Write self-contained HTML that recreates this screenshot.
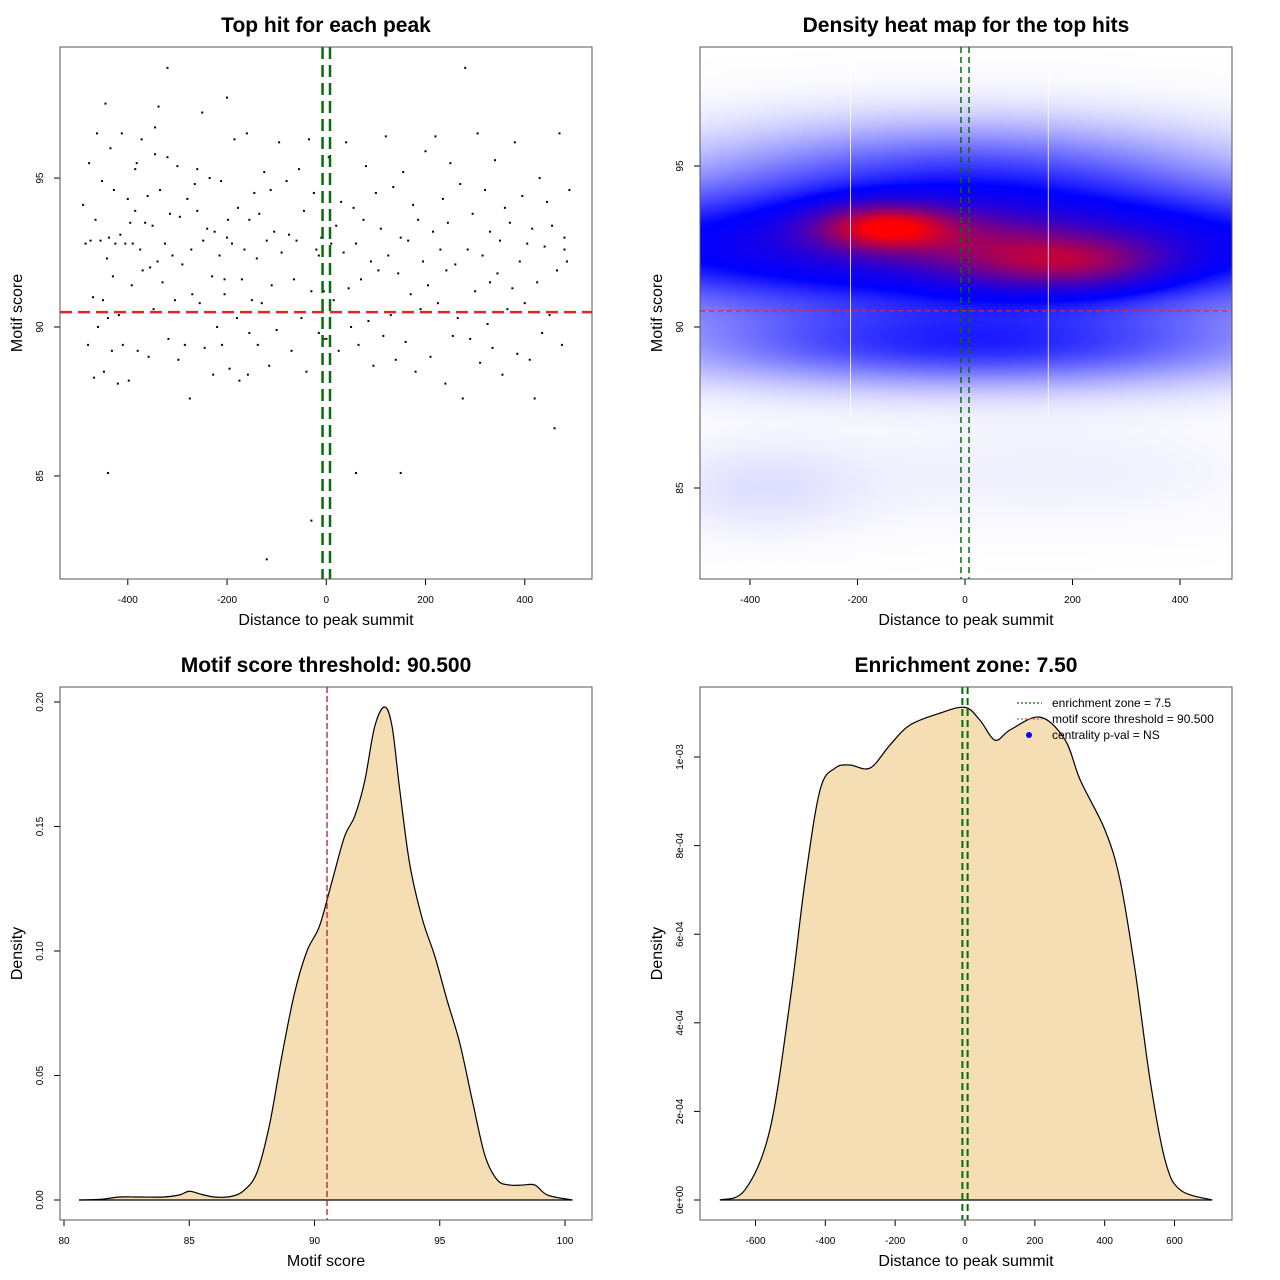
<!DOCTYPE html>
<html><head><meta charset="utf-8"><style>
html,body{margin:0;padding:0;background:#fff;width:1280px;height:1280px;overflow:hidden}
#wrap{position:relative;width:1280px;height:1280px}
svg{position:absolute;left:0;top:0}
canvas{position:absolute;left:700px;top:47px}
text{font-family:"Liberation Sans",Arial,sans-serif}
</style></head><body>
<div id="wrap">
<canvas id="heat" width="532" height="532"></canvas>
<svg id="svg" width="1280" height="1280"></svg>
</div>
<script>
// ---------- data ----------
const scatterDist=[-490,-485,-480,-478,-475,-470,-468,-465,-462,-460,-455,-452,-450,-448,-445,-442,-440,-438,-435,-432,-430,-428,-425,-420,-418,-415,-412,-410,-405,-400,-398,-395,-392,-390,-385,-382,-380,-375,-372,-370,-365,-360,-358,-355,-350,-348,-345,-340,-338,-335,-330,-325,-320,-318,-315,-310,-305,-300,-298,-295,-290,-285,-280,-275,-272,-270,-265,-260,-255,-250,-248,-245,-240,-235,-230,-228,-225,-220,-215,-212,-210,-205,-200,-198,-195,-190,-185,-180,-178,-175,-170,-165,-160,-158,-155,-150,-145,-140,-138,-135,-130,-125,-120,-115,-112,-110,-105,-100,-95,-90,-85,-80,-75,-70,-65,-60,-55,-50,-45,-40,-35,-30,-25,-20,-15,-10,-5,0,5,10,15,20,25,30,35,40,45,50,55,60,65,70,75,80,85,90,95,100,105,110,115,120,125,130,135,140,145,150,155,160,165,170,175,180,185,190,195,200,205,210,215,220,225,230,235,240,242,245,250,255,260,265,270,275,280,285,290,295,300,305,310,315,320,325,330,335,340,345,350,355,360,365,370,375,380,385,390,395,400,405,410,415,420,425,430,435,440,445,450,455,460,465,470,475,480,485,490,-440,-385,-205,-155,-200,-345,-15,-5,480,-30,60,150,-120,330,-260,-320];
const scatterScore=[94.1,92.8,89.4,95.5,92.9,91.0,88.3,93.6,96.5,90.0,92.9,94.9,90.9,88.5,97.5,92.3,85.1,93.0,96.0,89.2,91.7,94.6,92.8,88.1,90.4,93.1,96.5,89.4,92.8,94.3,88.2,93.5,91.4,92.8,93.9,95.5,89.2,92.6,96.3,91.9,93.5,94.4,89.0,92.0,93.4,90.6,95.8,92.2,97.4,94.6,91.5,92.8,95.7,89.6,93.8,92.4,90.9,95.4,88.9,93.7,92.1,89.4,94.3,87.6,92.6,91.1,94.8,93.9,90.8,97.2,92.9,89.3,93.3,95.0,91.7,88.4,93.2,90.0,92.4,94.9,89.4,91.1,97.7,93.6,88.6,92.8,96.3,90.3,94.0,88.2,91.6,92.6,96.5,88.4,93.6,90.9,94.5,92.3,89.4,93.8,90.8,95.2,92.9,88.7,94.6,91.4,93.2,89.9,96.2,92.5,90.5,94.9,93.1,89.2,91.6,92.9,95.3,90.3,93.9,88.5,96.3,91.2,94.5,92.6,89.8,93.0,91.2,89.6,95.7,92.8,90.9,93.4,89.2,94.2,92.5,96.2,91.3,90.0,94.0,92.8,89.4,91.6,93.6,95.4,90.2,92.2,88.7,94.5,91.9,93.3,89.7,96.4,92.4,90.4,94.7,88.9,91.8,93.0,95.2,89.5,92.9,91.1,94.1,88.5,93.6,90.6,92.2,95.9,91.4,89.0,93.2,96.4,90.8,92.6,94.3,88.1,91.9,93.5,95.5,89.7,92.1,90.3,94.8,87.6,98.7,92.6,89.6,93.8,91.2,96.5,88.8,92.4,94.6,90.1,93.2,89.3,95.6,91.8,92.9,88.4,94.0,90.6,93.5,91.3,96.2,89.1,92.2,94.4,90.8,92.8,88.9,93.3,87.6,91.5,95.0,89.8,92.7,94.2,90.4,93.4,86.6,91.9,96.5,89.4,93.0,92.2,94.6,90.3,95.3,91.6,89.8,93.0,96.7,92.4,89.6,92.6,83.5,85.1,85.1,82.2,91.5,95.3,98.7,98.7,98.5,92.0,93.8,92.9,96.0,93.8,96.2,91.8];
const densScore=[80.6,81.5,82.2,83,84,84.6,85,85.4,86,86.7,87.2,87.7,88.2,88.7,89.2,89.7,90.2,90.7,91.2,91.6,92.0,92.4,92.8,93.1,93.4,93.8,94.3,94.8,95.3,95.8,96.3,96.8,97.3,97.8,98.3,98.8,99.3,100.3];
const densValue=[0,0.0003,0.0012,0.0012,0.0012,0.002,0.0035,0.0025,0.0012,0.0015,0.004,0.011,0.03,0.058,0.083,0.100,0.110,0.128,0.146,0.154,0.168,0.190,0.198,0.190,0.165,0.135,0.113,0.098,0.080,0.063,0.040,0.018,0.008,0.006,0.006,0.006,0.002,0];
const ezDist=[-702,-630,-559,-501,-458,-415,-372,-330,-272,-215,-158,-72,0,43,86,129,215,287,330,401,444,487,530,573,616,708];
const ezDens=[0,2.3e-5,1.58e-4,4.5e-4,7.2e-4,9.26e-4,9.75e-4,9.82e-4,9.75e-4,1.027e-3,1.072e-3,1.099e-3,1.112e-3,1.083e-3,1.038e-3,1.061e-3,1.09e-3,1.038e-3,0.948e-3,0.835e-3,0.722e-3,0.519e-3,0.271e-3,0.090e-3,0.023e-3,0];
const heatCx=[0,-150,210,40,20,0,-380,150];
const heatCy=[92.5,93.1,92.0,92.4,89.4,95.0,85.0,85.5];
const heatW=[0.50,0.55,0.35,0.18,0.27,0.18,0.04,0.02];
const heatSx=[620,90,115,110,400,330,140,300];
const heatSy=[1.35,0.5,0.6,0.8,0.9,1.1,1.0,1.2];
const threshold=90.5, zone=7.5;

const NS='http://www.w3.org/2000/svg';
const svg=document.getElementById('svg');
function el(tag,attrs,parent){const e=document.createElementNS(NS,tag);for(const k in attrs)e.setAttribute(k,attrs[k]);(parent||svg).appendChild(e);return e;}
function txt(s,attrs,parent){const e=el('text',attrs,parent);e.textContent=s;return e;}

function panel(name,box,xs,ys,xt,yt,title,xlab,ylab,xfmt,yfmt){
  const g=el('g',{});
  
  
  const X=v=>box.x0+(v-xs[0])/(xs[1]-xs[0])*(box.x1-box.x0);
  const Y=v=>box.y1-(v-ys[0])/(ys[1]-ys[0])*(box.y1-box.y0);
  const t=txt(title,{x:(box.x0+box.x1)/2,y:box.y0-15,'text-anchor':'middle','font-size':21,'font-weight':'bold'},g);
  
  const xa=el('g',{},g);
  xt.forEach((v,i)=>{el('line',{x1:X(v),x2:X(v),y1:box.y1,y2:box.y1+6,stroke:'#000'},xa);
    txt(xfmt?xfmt[i]:String(v),{x:X(v),y:box.y1+24,'text-anchor':'middle','font-size':10},xa);});
  const ya=el('g',{},g);
  yt.forEach((v,i)=>{el('line',{x1:box.x0-6,x2:box.x0,y1:Y(v),y2:Y(v),stroke:'#000'},ya);
    const yy=Y(v);txt(yfmt?yfmt[i]:String(v),{x:box.x0-17,y:yy,'text-anchor':'middle','font-size':10,transform:`rotate(-90 ${box.x0-17} ${yy})`},ya);});
  const xl=txt(xlab,{x:(box.x0+box.x1)/2,y:box.y1+46,'text-anchor':'middle','font-size':16},g);
  
  const cy=(box.y0+box.y1)/2;
  const yl=txt(ylab,{x:box.x0-38,y:cy,'text-anchor':'middle','font-size':16,transform:`rotate(-90 ${box.x0-38} ${cy})`},g);
  
  return {g,X,Y,box};
}
function frame(p){const r=el('rect',{x:p.box.x0,y:p.box.y0,width:p.box.x1-p.box.x0,height:p.box.y1-p.box.y0,fill:'none',stroke:'#555'},p.g);}
function smooth(pts){let d=`M${pts[0][0]},${pts[0][1]}`;for(let i=0;i<pts.length-1;i++){const p0=pts[Math.max(0,i-1)],p1=pts[i],p2=pts[i+1],p3=pts[Math.min(pts.length-1,i+2)];
  d+=` C${p1[0]+(p2[0]-p0[0])/6},${p1[1]+(p2[1]-p0[1])/6} ${p2[0]-(p3[0]-p1[0])/6},${p2[1]-(p3[1]-p1[1])/6} ${p2[0]},${p2[1]}`;}return d;}

// Panel 1 scatter
const b1={x0:60,x1:592,y0:47,y1:579};
const p1=panel('scatter-panel',b1,[-536.6,535.5],[81.54,99.4],[-400,-200,0,200,400],[85,90,95],'Top hit for each peak','Distance to peak summit','Motif score');
scatterDist.forEach((d,i)=>{const c=el('rect',{x:p1.X(d)-1,y:p1.Y(scatterScore[i])-1,width:2,height:2,fill:'#000'},p1.g);
  });
let l=el('line',{x1:b1.x0,x2:b1.x1,y1:p1.Y(threshold),y2:p1.Y(threshold),stroke:'#e0262b','stroke-width':2.5,'stroke-dasharray':'12,6'},p1.g);

[-zone,zone].forEach(z=>{const q=el('line',{x1:p1.X(z),x2:p1.X(z),y1:b1.y0,y2:b1.y1,stroke:'#0a6b0a','stroke-width':2.5,'stroke-dasharray':'12,6'},p1.g);
  });
frame(p1);

// Panel 2 heatmap
const b2={x0:700,x1:1232,y0:47,y1:579};
const xs2=[-400-(750-700)*800/430,-400+(1232-750)*800/430];
const ys2=[90-(579-327)*5/161,90+(327-47)*5/161];
const p2=panel('heatmap-panel',b2,xs2,ys2,[-400,-200,0,200,400],[85,90,95],'Density heat map for the top hits','Distance to peak summit','Motif score');
(function(){
  const cv=document.getElementById('heat'),ctx=cv.getContext('2d');
  const W=532,H=532,img=ctx.createImageData(W,H);
  const dens=new Float32Array(W*H);let mx=0;
  for(let j=0;j<H;j++){const y=ys2[1]-(j+0.5)/H*(ys2[1]-ys2[0]);
    for(let i=0;i<W;i++){const x=xs2[0]+(i+0.5)/W*(xs2[1]-xs2[0]);let s=0;
      for(let k=0;k<heatCx.length;k++){const dx=(x-heatCx[k])/heatSx[k],dy=(y-heatCy[k])/heatSy[k];s+=heatW[k]*Math.exp(-0.5*(dx*dx+dy*dy));}
      dens[j*W+i]=s;if(s>mx)mx=s;}}
  for(let n=0;n<W*H;n++){const t=dens[n]/mx;let r,g,b;
    if(t<0.33){const u=t/0.33;r=255*(1-u);g=255*(1-u);b=255;}
    else{const u=Math.min(1,Math.pow((t-0.33)/0.62,1.2));r=255*u;g=0;b=255*(1-u);}
    img.data[n*4]=r;img.data[n*4+1]=g;img.data[n*4+2]=b;img.data[n*4+3]=255;}
  ctx.putImageData(img,0,0);
})();
[-213,155].forEach(v=>{const q=el('line',{x1:p2.X(v),x2:p2.X(v),y1:b2.y0,y2:p2.Y(87.2),stroke:'#fff','stroke-width':1,opacity:0.8},p2.g);
  });
l=el('line',{x1:b2.x0,x2:b2.x1,y1:p2.Y(threshold),y2:p2.Y(threshold),stroke:'#e0262b','stroke-width':1.3,'stroke-dasharray':'5,4'},p2.g);

[-zone,zone].forEach(z=>{const q=el('line',{x1:p2.X(z),x2:p2.X(z),y1:b2.y0,y2:b2.y1,stroke:'#0a6b0a','stroke-width':1.5,'stroke-dasharray':'6,4'},p2.g);
  });
frame(p2);

// Panel 3 density
const b3={x0:60,x1:592,y0:687,y1:1220};
const p3=panel('score-density-panel',b3,[80-4/25.05,80+(592-64)/25.05],[-(1220-1200)/2490,(1200-687)/2490],[80,85,90,95,100],[0,0.05,0.10,0.15,0.20],'Motif score threshold: 90.500','Motif score','Density',null,['0.00','0.05','0.10','0.15','0.20']);
let pts=densScore.map((s,i)=>[p3.X(s),p3.Y(densValue[i])]);
let d=smooth(pts);
let a=el('path',{d:d+` L${pts[pts.length-1][0]},${p3.Y(0)} L${pts[0][0]},${p3.Y(0)} Z`,fill:'#f5deb3',stroke:'none'},p3.g);

a=el('path',{d:d,fill:'none',stroke:'#000','stroke-width':1.2},p3.g);

a=el('line',{x1:pts[0][0],x2:pts[pts.length-1][0],y1:p3.Y(0),y2:p3.Y(0),stroke:'#000','stroke-width':1.2},p3.g);

l=el('line',{x1:p3.X(threshold),x2:p3.X(threshold),y1:b3.y0,y2:b3.y1,stroke:'#b22222','stroke-width':1.3,'stroke-dasharray':'6,3'},p3.g);

frame(p3);

// Panel 4 enrichment density
const b4={x0:700,x1:1232,y0:687,y1:1220};
const p4=panel('distance-density-panel',b4,[-(965-700)/0.34917,(1232-965)/0.34917],[-(1220-1200)/443000,(1200-687)/443000],[-600,-400,-200,0,200,400,600],[0,2e-4,4e-4,6e-4,8e-4,1e-3],'Enrichment zone: 7.50','Distance to peak summit','Density',null,['0e+00','2e-04','4e-04','6e-04','8e-04','1e-03']);
pts=ezDist.map((s,i)=>[p4.X(s),p4.Y(ezDens[i])]);
d=smooth(pts);
a=el('path',{d:d+` L${pts[pts.length-1][0]},${p4.Y(0)} L${pts[0][0]},${p4.Y(0)} Z`,fill:'#f5deb3',stroke:'none'},p4.g);

a=el('path',{d:d,fill:'none',stroke:'#000','stroke-width':1.2},p4.g);

a=el('line',{x1:pts[0][0],x2:pts[pts.length-1][0],y1:p4.Y(0),y2:p4.Y(0),stroke:'#000','stroke-width':1.2},p4.g);

[-zone,zone].forEach(z=>{const q=el('line',{x1:p4.X(z),x2:p4.X(z),y1:b4.y0,y2:b4.y1,stroke:'#0a6b0a','stroke-width':2,'stroke-dasharray':'7,4'},p4.g);
  });
const lg=el('g',{},p4.g);
const legItems=[['enrichment zone = 7.5','#0a6b0a','line'],['motif score threshold = 90.500','#e05050','line'],['centrality p-val = NS','#0000ff','dot']];
legItems.forEach((it,i)=>{const y=703+i*16;const ge=el('g',{},lg);
  if(it[2]==='line')el('line',{x1:1017,x2:1042,y1:y,y2:y,stroke:it[1],'stroke-width':1.2,'stroke-dasharray':'2,2'},ge);
  else el('circle',{cx:1029,cy:y,r:3,fill:it[1]},ge);
  txt(it[0],{x:1052,y:y+4,'font-size':12},ge);});
frame(p4);
</script>
</body></html>
